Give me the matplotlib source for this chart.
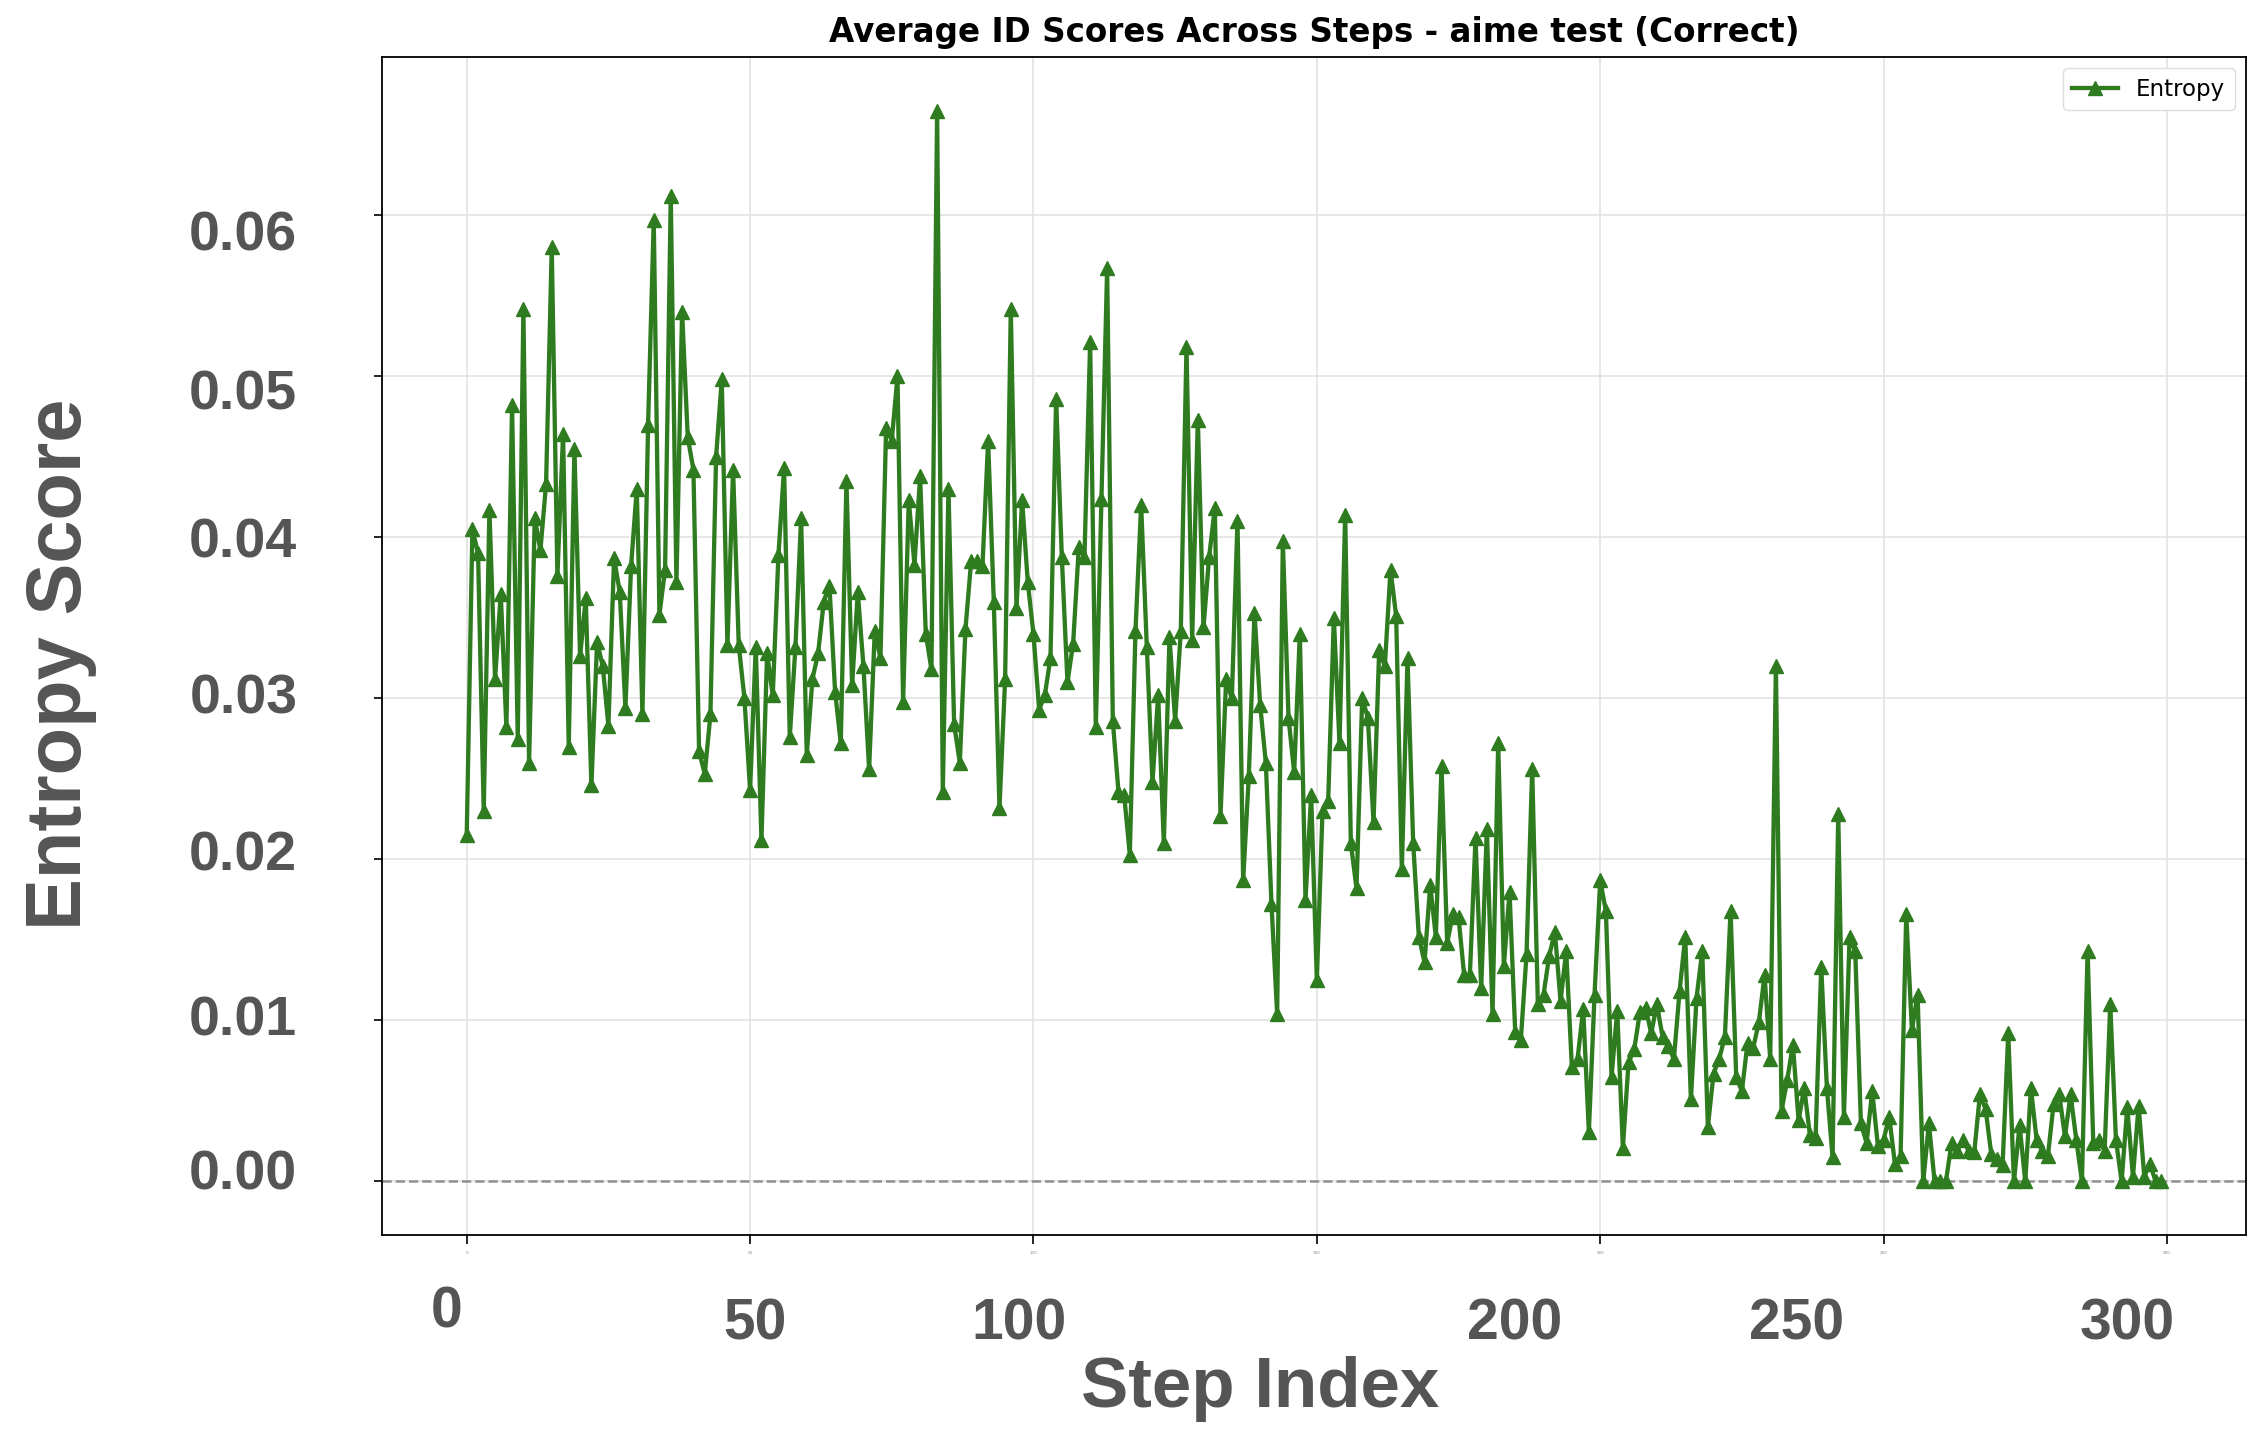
import numpy as np
import matplotlib
matplotlib.use("Agg")
import matplotlib.pyplot as plt
from matplotlib.transforms import ScaledTranslation

# Data: average entropy score per step
entropy_scores = [
    0.0215, 0.0405, 0.0390, 0.0230, 0.0417, 0.0312, 0.0365, 0.0282, 0.0482, 0.0275,
    0.0542, 0.0260, 0.0412, 0.0392, 0.0433, 0.0580, 0.0376, 0.0464, 0.0270, 0.0455,
    0.0326, 0.0362, 0.0246, 0.0335, 0.0320, 0.0283, 0.0387, 0.0366, 0.0294, 0.0382,
    0.0430, 0.0290, 0.0470, 0.0597, 0.0352, 0.0380, 0.0612, 0.0372, 0.0540, 0.0462,
    0.0442, 0.0267, 0.0253, 0.0290, 0.0450, 0.0498, 0.0333, 0.0442, 0.0333, 0.0300,
    0.0243, 0.0332, 0.0212, 0.0328, 0.0302, 0.0389, 0.0443, 0.0276, 0.0332, 0.0412,
    0.0265, 0.0312, 0.0328, 0.0360, 0.0370, 0.0304, 0.0272, 0.0435, 0.0308, 0.0366,
    0.0320, 0.0256, 0.0342, 0.0325, 0.0468, 0.0460, 0.0500, 0.0298, 0.0423, 0.0383,
    0.0438, 0.0340, 0.0318, 0.0665, 0.0242, 0.0430, 0.0284, 0.0260, 0.0343, 0.0385,
    0.0385, 0.0382, 0.0460, 0.0360, 0.0232, 0.0312, 0.0542, 0.0356, 0.0423, 0.0372,
    0.0340, 0.0293, 0.0302, 0.0325, 0.0486, 0.0388, 0.0310, 0.0334, 0.0394, 0.0388,
    0.0521, 0.0282, 0.0424, 0.0567, 0.0286, 0.0242, 0.0240, 0.0203, 0.0342, 0.0420,
    0.0332, 0.0248, 0.0302, 0.0210, 0.0338, 0.0286, 0.0342, 0.0518, 0.0336, 0.0473,
    0.0344, 0.0388, 0.0418, 0.0227, 0.0312, 0.0300, 0.0410, 0.0187, 0.0252, 0.0353,
    0.0296, 0.0260, 0.0172, 0.0104, 0.0398, 0.0288, 0.0254, 0.0340, 0.0175, 0.0240,
    0.0125, 0.0230, 0.0236, 0.0350, 0.0272, 0.0414, 0.0210, 0.0182, 0.0300, 0.0288,
    0.0223, 0.0330, 0.0320, 0.0380, 0.0351, 0.0194, 0.0325, 0.0210, 0.0152, 0.0136,
    0.0184, 0.0152, 0.0258, 0.0148, 0.0166, 0.0164, 0.0128, 0.0128, 0.0213, 0.0120,
    0.0219, 0.0104, 0.0272, 0.0134, 0.0180, 0.0093, 0.0088, 0.0141, 0.0256, 0.0110,
    0.0116, 0.0140, 0.0155, 0.0112, 0.0143, 0.0071, 0.0076, 0.0107, 0.0031, 0.0116,
    0.0187, 0.0168, 0.0065, 0.0106, 0.0021, 0.0074, 0.0082, 0.0105, 0.0108, 0.0092,
    0.0110, 0.0090, 0.0084, 0.0076, 0.0118, 0.0152, 0.0051, 0.0114, 0.0143, 0.0034,
    0.0067, 0.0076, 0.0090, 0.0168, 0.0065, 0.0056, 0.0086, 0.0083, 0.0099, 0.0128,
    0.0076, 0.0320, 0.0044, 0.0063, 0.0085, 0.0038, 0.0058, 0.0029, 0.0027, 0.0133,
    0.0058, 0.0015, 0.0228, 0.0040, 0.0152, 0.0143, 0.0036, 0.0024, 0.0056, 0.0022,
    0.0026, 0.0040, 0.0011, 0.0016, 0.0166, 0.0094, 0.0116, 0.0000, 0.0036, 0.0000,
    0.0000, 0.0000, 0.0024, 0.0019, 0.0026, 0.0019, 0.0018, 0.0054, 0.0045, 0.0017,
    0.0014, 0.0010, 0.0092, 0.0000, 0.0035, 0.0000, 0.0058, 0.0026, 0.0019, 0.0016,
    0.0048, 0.0054, 0.0028, 0.0054, 0.0026, 0.0000, 0.0143, 0.0024, 0.0026, 0.0019,
    0.0110, 0.0026, 0.0000, 0.0046, 0.0003, 0.0047, 0.0003, 0.0011, 0.0000, 0.0000,
]
steps = np.arange(len(entropy_scores))

y_ticks = [0.00, 0.01, 0.02, 0.03, 0.04, 0.05, 0.06]
# the y labels are not quite centred on their ticks (shift down, in px)
y_label_shift = [-12, -5, -9, -5, 0, 13, 15]
x_ticks = [0, 50, 100, 150, 200, 250, 300]

# The large step labels sit below the axis (pixel centres in the 2262x1432 image)
big_x_labels = ["0", "50", "100", "200", "250", "300"]
big_x_label_px = [(447, 1313), (755, 1325), (1019, 1325), (1515, 1325), (1797, 1325), (2127, 1325)]

W, H = 2262, 1432
line_color = "#2e7c1f"
label_gray = "#555555"

fig = plt.figure(figsize=(W / 100, H / 100), dpi=100)
ax = fig.add_axes([382 / W, 1 - 1235 / H, (2246 - 382) / W, (1235 - 57) / H])

# -- Main line --
ax.plot(steps, entropy_scores, color=line_color, marker="^", markersize=10.5,
        linewidth=3.1, label="Entropy", zorder=3)
ax.axhline(0, color="gray", linestyle="--", linewidth=1.8, alpha=0.85, zorder=2)

# -- Grid / spines --
ax.grid(True, color="#e3e3e3", linewidth=1.2)
ax.set_axisbelow(True)
for s in ax.spines.values():
    s.set_color("black")
    s.set_linewidth(1.3)

# -- Ticks --
ax.set_yticks(y_ticks)
ax.set_yticklabels([f"{v:.2f}" for v in y_ticks], fontsize=40, fontweight="bold",
                   color=label_gray, family="Liberation Sans")
ax.tick_params(axis="y", length=6, width=1.2, pad=55)
for lab, dy in zip(ax.get_yticklabels(), y_label_shift):
    lab.set_transform(lab.get_transform() + ScaledTranslation(0, -dy / 100, fig.dpi_scale_trans))
ax.set_xticks(x_ticks)
ax.set_xticklabels([str(v) for v in x_ticks], fontsize=3, color="#888888")
ax.tick_params(axis="x", length=6.5, width=1.2, pad=5)

for lab, (px, py) in zip(big_x_labels, big_x_label_px):
    fig.text(px / W, 1 - py / H, lab, fontsize=41, fontweight="bold", color=label_gray,
             family="Liberation Sans", ha="center", va="center")

# -- Axis labels and title --
fig.text(1260 / W, 1 - 1389 / H, "Step Index", fontsize=51, fontweight="bold",
         color=label_gray, family="Liberation Sans", ha="center", va="center")
fig.text(61 / W, 1 - 664 / H, "Entropy Score", fontsize=56, fontweight="bold",
         color=label_gray, family="Liberation Sans", ha="center", va="center", rotation=90)
ax.set_title("Average ID Scores Across Steps - aime test (Correct)", fontsize=23.5,
             fontweight="bold", pad=11)

ax.legend(loc="upper right", fontsize=16.5, numpoints=1, framealpha=1, edgecolor="#dddddd")

fig.savefig("out.png", dpi=100)
